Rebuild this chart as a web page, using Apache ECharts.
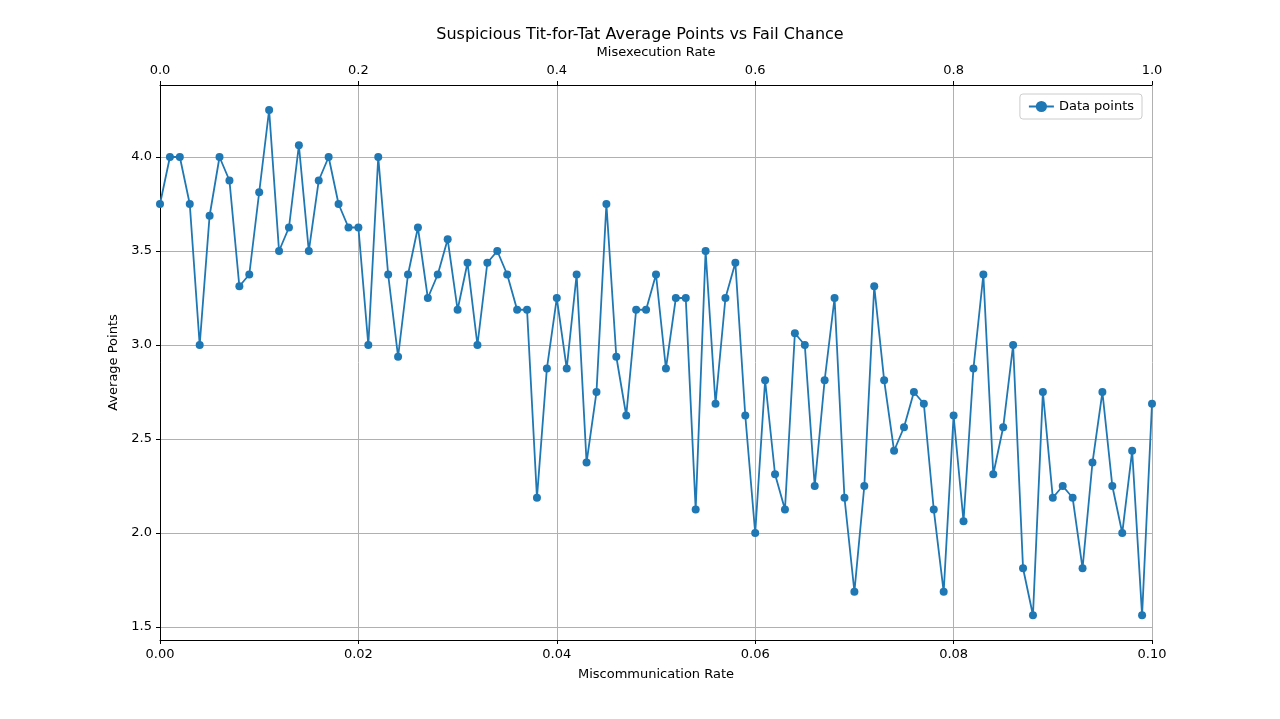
<!DOCTYPE html>
<html>
<head>
<meta charset="utf-8">
<script src="https://cdn.jsdelivr.net/npm/echarts@6/dist/echarts.min.js"></script>
<style>html,body{margin:0;padding:0;background:#fff}#chart{width:1280px;height:719px}</style>
</head>
<body>
<div id="chart"></div>
<script>
var avgPoints = [
    3.75, 4.0, 4.0, 3.75, 3.0, 3.6875, 4.0, 3.875, 3.3125, 3.375,
    3.8125, 4.25, 3.5, 3.625, 4.0625, 3.5, 3.875, 4.0, 3.75, 3.625,
    3.625, 3.0, 4.0, 3.375, 2.9375, 3.375, 3.625, 3.25, 3.375, 3.5625,
    3.1875, 3.4375, 3.0, 3.4375, 3.5, 3.375, 3.1875, 3.1875, 2.1875, 2.875,
    3.25, 2.875, 3.375, 2.375, 2.75, 3.75, 2.9375, 2.625, 3.1875, 3.1875,
    3.375, 2.875, 3.25, 3.25, 2.125, 3.5, 2.6875, 3.25, 3.4375, 2.625,
    2.0, 2.8125, 2.3125, 2.125, 3.0625, 3.0, 2.25, 2.8125, 3.25, 2.1875,
    1.6875, 2.25, 3.3125, 2.8125, 2.4375, 2.5625, 2.75, 2.6875, 2.125, 1.6875,
    2.625, 2.0625, 2.875, 3.375, 2.3125, 2.5625, 3.0, 1.8125, 1.5625, 2.75,
    2.1875, 2.25, 2.1875, 1.8125, 2.375, 2.75, 2.25, 2.0, 2.4375, 1.5625,
    2.6875
];
var rateStep = 0.001;
var miscommRates = avgPoints.map(function (v, i) { return +(i * rateStep).toFixed(3); });
var yTicks = [1.5, 2.0, 2.5, 3.0, 3.5, 4.0];

var font = 'DejaVu Sans';
var myChart = echarts.init(document.getElementById('chart'));
var chartOption = {
    animation: false,
    title: {
        text: 'Suspicious Tit-for-Tat Average Points vs Fail Chance',
        left: 'center', top: 22,
        textStyle: { fontFamily: font, fontSize: 16, fontWeight: 'normal', color: '#000' }
    },
    legend: {
        data: ['Data points'], right: 138, top: 94,
        backgroundColor: '#fff', borderColor: '#ccc', borderWidth: 1, borderRadius: 3,
        padding: [6, 8],
        textStyle: { fontFamily: font, fontSize: 13, color: '#000' }
    },
    grid: { left: 160, right: 128, top: 85, bottom: 79 },
    xAxis: [{
        type: 'value', min: 0, max: 0.1, interval: 0.02,
        name: 'Miscommunication Rate', nameLocation: 'middle', nameGap: 28,
        nameTextStyle: { fontFamily: font, fontSize: 13, color: '#000' },
        axisLine: { lineStyle: { color: '#000' } },
        axisTick: { show: true, length: 4, lineStyle: { color: '#000' } },
        axisLabel: { fontFamily: font, fontSize: 13, color: '#000', formatter: function (v) { return v === 0 ? '0.00' : v.toFixed(2); } },
        splitLine: { show: true, lineStyle: { color: '#b0b0b0' } }
    }, {
        type: 'value', position: 'top', min: 0, max: 1, interval: 0.2,
        name: 'Misexecution Rate', nameLocation: 'middle', nameGap: 26,
        nameTextStyle: { fontFamily: font, fontSize: 13, color: '#000' },
        axisLine: { lineStyle: { color: '#000' } },
        axisTick: { show: true, length: 4, lineStyle: { color: '#000' } },
        axisLabel: { fontFamily: font, fontSize: 13, color: '#000', formatter: function (v) { return v.toFixed(1); } },
        splitLine: { show: false }
    }],
    yAxis: [{
        type: 'value', min: 1.431, max: 4.383,
        name: 'Average Points', nameLocation: 'middle', nameGap: 40,
        nameTextStyle: { fontFamily: font, fontSize: 13, color: '#000' },
        axisLine: { show: true, lineStyle: { color: '#000' } },
        axisTick: { show: true, length: 4, lineStyle: { color: '#000' }, customValues: yTicks },
        axisLabel: { fontFamily: font, fontSize: 13, color: '#000', customValues: yTicks, formatter: function (v) { return v.toFixed(1); } },
        splitLine: { show: true, lineStyle: { color: '#b0b0b0' }, customValues: yTicks }
    }, {
        type: 'value', position: 'right', min: 1.431, max: 4.383,
        axisLine: { show: true, lineStyle: { color: '#000' } },
        axisTick: { show: false }, axisLabel: { show: false }, splitLine: { show: false }
    }],
    series: [{
        name: 'Data points',
        type: 'line',
        xAxisIndex: 0,
        data: miscommRates.map(function (r, i) { return [r, avgPoints[i]]; }),
        symbol: 'circle', symbolSize: 8,
        itemStyle: { color: '#1f77b4' },
        lineStyle: { color: '#1f77b4', width: 1.8 }
    }]
};
myChart.setOption(chartOption);
</script>
</body>
</html>
